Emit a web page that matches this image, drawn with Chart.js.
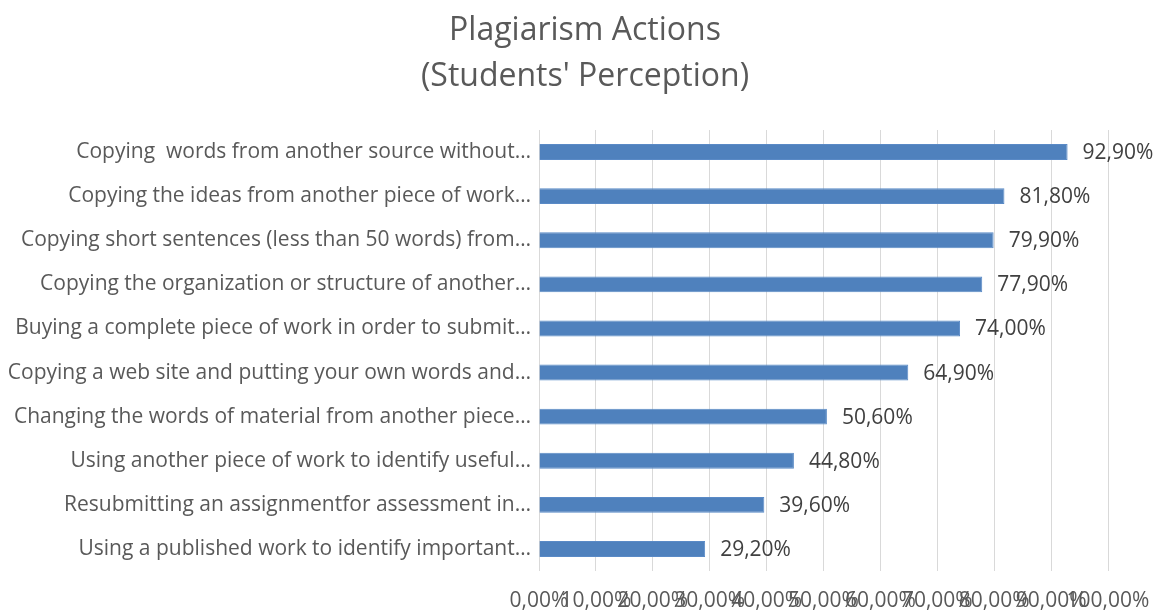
<!DOCTYPE html>
<html>
<head>
<meta charset="utf-8">
<script src="https://cdn.jsdelivr.net/npm/chart.js@4"></script>
<style>
  html, body { margin: 0; padding: 0; background: #fff; }
  #wrap { width: 1158px; height: 612px; }
</style>
</head>
<body>
<div id="wrap"><canvas id="chart"></canvas></div>
<script>
const categories = [
    'Copying  words from another source without…',
    'Copying the ideas from another piece of work…',
    'Copying short sentences (less than 50 words) from…',
    'Copying the organization or structure of another…',
    'Buying a complete piece of work in order to submit…',
    'Copying a web site and putting your own words and…',
    'Changing the words of material from another piece…',
    'Using another piece of work to identify useful…',
    'Resubmitting an assignmentfor assessment in…',
    'Using a published work to identify important…'
];
const percentages = [92.9, 81.8, 79.9, 77.9, 74.0, 64.9, 50.6, 44.8, 39.6, 29.2];
const titleLines = ['Plagiarism Actions', "(Students' Perception)"];

const fontFamily = "'Open Sans', sans-serif";
const textGray = '#595959';

// comma decimal like the original
function fmt(v) {
    return v.toFixed(2).replace('.', ',') + '%';
}

// title drawn by hand so it can sit a bit right of the canvas centre
const chartTitle = {
    id: 'chartTitle',
    afterDraw(chart) {
        const ctx = chart.ctx;
        ctx.save();
        ctx.font = '32px ' + fontFamily;
        ctx.fillStyle = textGray;
        ctx.textAlign = 'center';
        ctx.textBaseline = 'middle';
        titleLines.forEach((line, i) => {
            ctx.fillText(line, 585, 31 + i * 46);
        });
        ctx.restore();
    }
};

// values at the end of each bar
const barValueLabels = {
    id: 'barValueLabels',
    afterDatasetsDraw(chart) {
        const ctx = chart.ctx;
        const meta = chart.getDatasetMeta(0);
        ctx.save();
        ctx.font = '21px ' + fontFamily;
        ctx.fillStyle = '#404040';
        ctx.textAlign = 'left';
        ctx.textBaseline = 'middle';
        meta.data.forEach((bar, i) => {
            ctx.fillText(fmt(percentages[i]), bar.x + 15, bar.y + 1);
        });
        ctx.restore();
    }
};

const ctx = document.getElementById('chart').getContext('2d');
new Chart(ctx, {
    type: 'bar',
    data: {
        labels: categories,
        datasets: [{
            data: percentages,
            backgroundColor: '#4f81bd',
            borderColor: '#5a8ac6',
            borderWidth: 1,
            barPercentage: 0.72,
            categoryPercentage: 0.5
        }]
    },
    plugins: [chartTitle, barValueLabels],
    options: {
        indexAxis: 'y',
        responsive: true,
        maintainAspectRatio: false,
        animation: false,
        layout: { padding: { left: 0, right: 50, top: 130, bottom: 0 } },
        plugins: {
            legend: { display: false },
            tooltip: { enabled: false },
            title: { display: false }
        },
        scales: {
            x: {
                min: 0,
                max: 100,
                ticks: {
                    stepSize: 10,
                    autoSkip: false,
                    maxRotation: 0,
                    minRotation: 0,
                    color: textGray,
                    font: { family: fontFamily, size: 21 },
                    padding: 17,
                    callback: v => fmt(v)
                },
                grid: { color: '#d9d9d9', drawTicks: false },
                border: { display: false },
                afterFit: scale => {
                    scale.height = 41;
                    // let the overlapping end labels hang out, keep plot edges fixed
                    scale.paddingLeft = 0;
                    scale.paddingRight = 0;
                }
            },
            y: {
                ticks: {
                    color: textGray,
                    font: { family: fontFamily, size: 21 },
                    padding: 8
                },
                grid: { display: false, drawTicks: false },
                border: { display: false },
                afterFit: scale => { scale.width = 539; }
            }
        }
    }
});
</script>
</body>
</html>
